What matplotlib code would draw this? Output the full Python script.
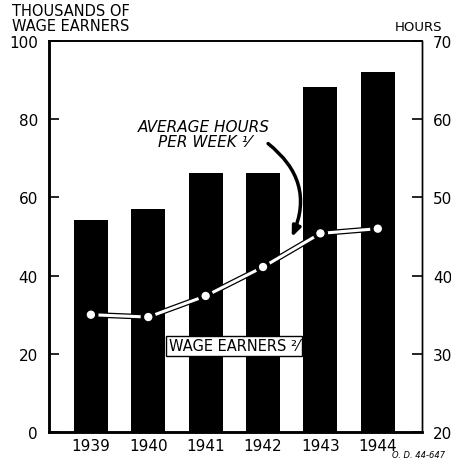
import matplotlib
matplotlib.use("Agg")
import matplotlib.pyplot as plt
import matplotlib.patheffects as pe

# Data
years = ["1939", "1940", "1941", "1942", "1943", "1944"]
wage_earners = [54.2, 57.0, 66.2, 66.3, 88.2, 92.0]   # thousands
avg_hours = [35.0, 34.7, 37.4, 41.1, 45.4, 46.0]      # hours per week
left_ticks = [0, 20, 40, 60, 80, 100]
right_ticks = [20, 30, 40, 50, 60, 70]

plt.rcParams["font.family"] = ["DejaVu Sans"]

fig = plt.figure(figsize=(4.52, 4.64), dpi=100)
ax = fig.add_axes([0.1084, 0.0668, 0.8252, 0.8427])
x = list(range(len(years)))

# Bars: wage earners
ax.bar(x, wage_earners, width=0.59, color="black", zorder=2)
ax.set_xlim(-0.73, 5.77)
ax.set_ylim(0, 100)
ax.set_yticks(left_ticks)
ax.set_yticklabels([str(t) for t in left_ticks], fontsize=11)
ax.set_xticks(x)
ax.set_xticklabels(years, fontsize=11)
ax.tick_params(axis="x", length=0, pad=4)
ax.tick_params(axis="y", direction="in", length=7, width=1.2, pad=8)

# Line: average hours on right axis
ax2 = ax.twinx()
ax2.set_ylim(20, 70)
ax2.set_yticks(right_ticks)
ax2.set_yticklabels([str(t) for t in right_ticks], fontsize=11)
ax2.tick_params(axis="y", direction="in", length=7, width=1.2, pad=8)
ax2.plot(x, avg_hours, color="white", lw=2.2, zorder=3,
         marker="o", markersize=7, markerfacecolor="white",
         markeredgecolor="black", markeredgewidth=1.0,
         path_effects=[pe.Stroke(linewidth=4.0, foreground="black"), pe.Normal()])

for a in (ax, ax2):
    a.spines["left"].set_linewidth(1.8)
    a.spines["bottom"].set_linewidth(1.8)
    a.spines["top"].set_linewidth(1.2)
    a.spines["right"].set_linewidth(1.0)

# Axis titles
fig.text(0.026, 0.927, "THOUSANDS OF\nWAGE EARNERS", fontsize=10.5,
         ha="left", va="bottom", linespacing=0.95)
fig.text(0.978, 0.927, "HOURS", fontsize=9.5, ha="right", va="bottom")

# Annotations
ax2.annotate("", xy=(3.48, 44.6), xytext=(3.05, 57.1),
             arrowprops=dict(arrowstyle="-|>,head_length=0.6,head_width=0.25",
                             color="black", lw=2.5,
                             connectionstyle="arc3,rad=-0.4"), zorder=4)
ax2.text(1.97, 58.1, "AVERAGE HOURS\nPER WEEK \u00b9\u2044", fontsize=11,
         style="italic", ha="center", va="center", linespacing=1.0)
ax.text(2.49, 22.0, "WAGE EARNERS \u00b2\u2044", fontsize=10.5, ha="center",
        va="center", zorder=5,
        bbox=dict(boxstyle="square,pad=0.2", facecolor="white",
                  edgecolor="black", lw=1.0))

fig.text(0.985, 0.008, "O. D. 44-647", fontsize=6, style="italic",
         ha="right", va="bottom")

fig.savefig("out.png", dpi=100)
